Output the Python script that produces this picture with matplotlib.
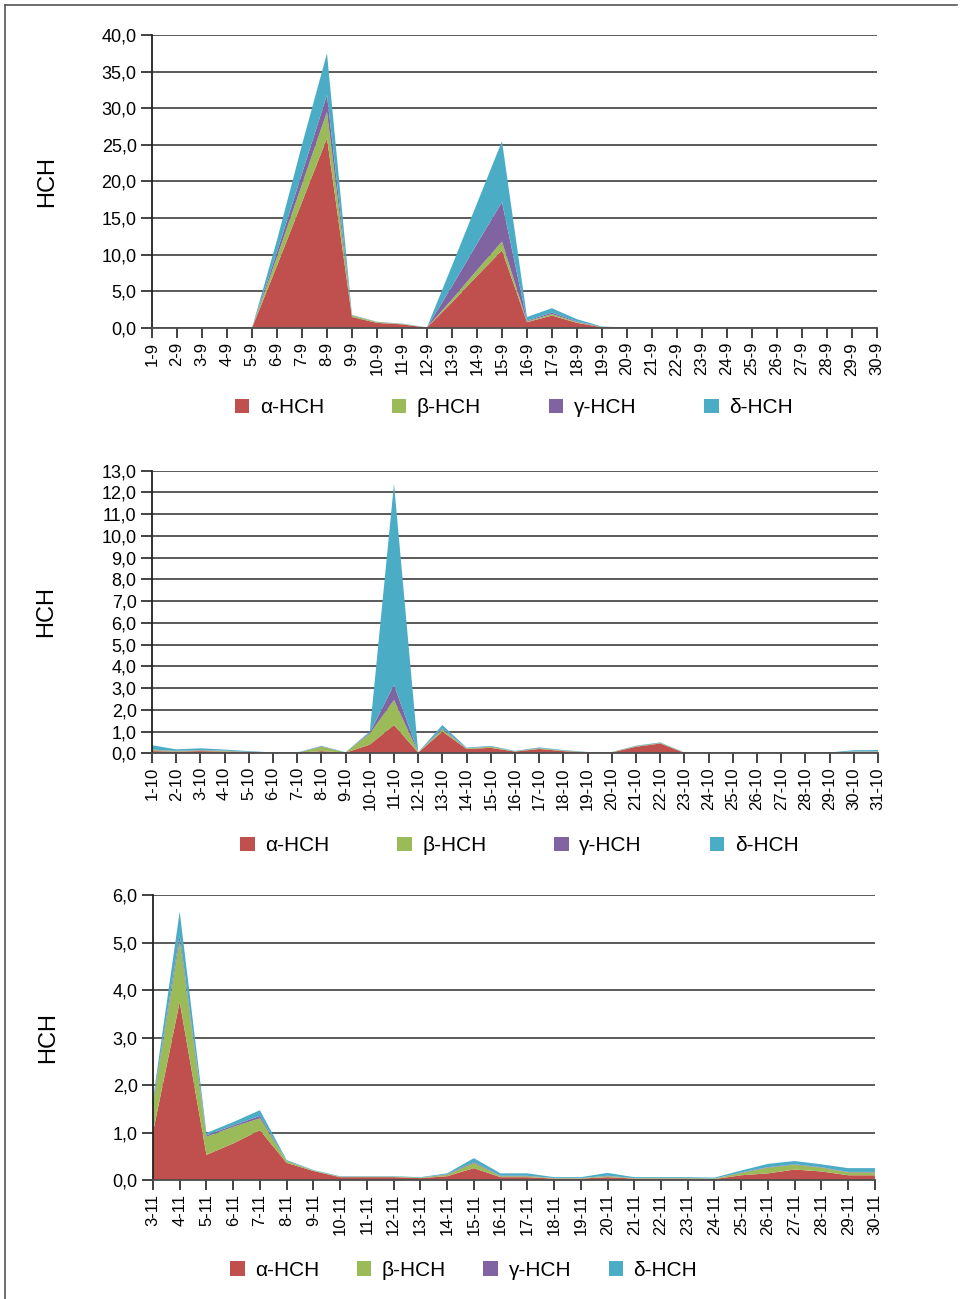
import matplotlib.pyplot as plt
from matplotlib.ticker import FuncFormatter, MultipleLocator
from matplotlib.patches import Patch
from matplotlib.lines import Line2D

plt.rcParams['font.family'] = ['Liberation Sans', 'DejaVu Sans']

colors = ['#c0504d', '#9bbb59', '#8064a2', '#4bacc6']
names = ['α-HCH', 'β-HCH', 'γ-HCH', 'δ-HCH']

# September
sep_days = [f'{d}-9' for d in range(1, 31)]
sep_a = [0, 0, 0, 0, 0, 8.5, 17.2, 25.9, 1.5, 0.7, 0.5, 0.05, 3.5, 7.1, 10.6,
         0.8, 1.7, 0.7, 0.1, 0.03, 0.03, 0.02, 0.02, 0.02, 0.02, 0.02, 0.02, 0.02, 0.02, 0.02]
sep_b = [0, 0, 0, 0, 0, 1.2, 2.4, 3.6, 0.2, 0.1, 0.05, 0.02, 0.4, 0.8, 1.2,
         0.1, 0.2, 0.1, 0.03, 0.01, 0.01, 0.01, 0.01, 0.01, 0.01, 0.01, 0.01, 0.01, 0.01, 0.01]
sep_g = [0, 0, 0, 0, 0, 0.7, 1.5, 2.3, 0.03, 0.02, 0.02, 0.01, 1.8, 3.6, 5.4,
         0.1, 0.2, 0.1, 0.02, 0.01, 0.01, 0.01, 0.01, 0.01, 0.01, 0.01, 0.01, 0.01, 0.01, 0.01]
sep_d = [0, 0, 0, 0, 0, 1.6, 3.9, 5.7, 0.05, 0.03, 0.03, 0.01, 2.8, 5.5, 8.3,
         0.5, 0.6, 0.3, 0.05, 0.02, 0.02, 0.02, 0.01, 0.01, 0.01, 0.01, 0.01, 0.01, 0.01, 0.01]

# October
oct_days = [f'{d}-10' for d in range(1, 32)]
oct_a = [0.1, 0.08, 0.1, 0.08, 0.05, 0.02, 0.02, 0.1, 0.03, 0.4, 1.3, 0.03, 1.0, 0.2, 0.25, 0.08,
         0.2, 0.1, 0.04, 0.04, 0.3, 0.45, 0.02, 0.02, 0.02, 0.02, 0.02, 0.02, 0.02, 0.06, 0.06]
oct_b = [0.05, 0.02, 0.03, 0.03, 0.01, 0.01, 0.01, 0.2, 0.01, 0.5, 1.15, 0.01, 0.1, 0.02, 0.05, 0.01,
         0.03, 0.02, 0.01, 0.01, 0.02, 0.02, 0.01, 0.01, 0.01, 0.01, 0.01, 0.01, 0.01, 0.02, 0.02]
oct_g = [0.02, 0.01, 0.02, 0.01, 0.01, 0.0, 0.0, 0.02, 0.0, 0.05, 0.7, 0.0, 0.05, 0.01, 0.01, 0.0,
         0.01, 0.01, 0.0, 0.0, 0.01, 0.01, 0.0, 0.0, 0.0, 0.0, 0.0, 0.0, 0.0, 0.01, 0.01]
oct_d = [0.2, 0.07, 0.08, 0.05, 0.03, 0.01, 0.01, 0.02, 0.01, 0.05, 9.25, 0.01, 0.15, 0.03, 0.03, 0.02,
         0.03, 0.02, 0.01, 0.01, 0.02, 0.02, 0.01, 0.01, 0.01, 0.01, 0.01, 0.01, 0.01, 0.05, 0.06]

# November
nov_days = [f'{d}-11' for d in range(3, 31)]
nov_a = [1.0, 3.75, 0.53, 0.77, 1.05, 0.36, 0.19, 0.06, 0.06, 0.06, 0.04, 0.08, 0.25, 0.06,
         0.06, 0.03, 0.03, 0.06, 0.03, 0.03, 0.03, 0.02, 0.1, 0.14, 0.22, 0.18, 0.1, 0.1]
nov_b = [0.6, 1.3, 0.38, 0.35, 0.25, 0.04, 0.01, 0.01, 0.01, 0.01, 0.01, 0.03, 0.11, 0.02,
         0.02, 0.01, 0.01, 0.02, 0.01, 0.01, 0.01, 0.01, 0.05, 0.12, 0.1, 0.08, 0.06, 0.06]
nov_g = [0.05, 0.1, 0.03, 0.03, 0.05, 0.0, 0.0, 0.0, 0.0, 0.0, 0.0, 0.01, 0.02, 0.01,
         0.01, 0.0, 0.0, 0.01, 0.0, 0.0, 0.0, 0.0, 0.01, 0.01, 0.01, 0.01, 0.01, 0.01]
nov_d = [0.05, 0.5, 0.05, 0.07, 0.12, 0.02, 0.01, 0.01, 0.01, 0.01, 0.01, 0.02, 0.08, 0.05,
         0.05, 0.02, 0.02, 0.06, 0.02, 0.02, 0.02, 0.02, 0.04, 0.07, 0.07, 0.06, 0.08, 0.08]

# data, y max, y step, axes rect, legend centre (x, y), legend column spacing
panels = [
    (sep_days, [sep_a, sep_b, sep_g, sep_d], 40, 5, [0.158, 0.7475, 0.7536, 0.2256], (0.534, 0.686), 3.25),
    (oct_days, [oct_a, oct_b, oct_g, oct_d], 13, 1, [0.158, 0.4201, 0.7547, 0.2176], (0.540, 0.349), 3.25),
    (nov_days, [nov_a, nov_b, nov_g, nov_d], 6, 1, [0.159, 0.0916, 0.7505, 0.2194], (0.482, 0.0223), 1.8),
]

fig = plt.figure(figsize=(9.62, 12.99), dpi=100)

for days, series, ymax, step, rect, leg_xy, colsp in panels:
    ax = fig.add_axes(rect)
    x = list(range(len(days)))
    ax.stackplot(x, *series, colors=colors, linewidth=0)
    ax.set_xlim(0, len(days) - 1)
    ax.set_ylim(0, ymax)
    ax.yaxis.set_major_locator(MultipleLocator(step))
    ax.yaxis.set_major_formatter(FuncFormatter(lambda v, p: f'{v:.1f}'.replace('.', ',')))
    ax.set_xticks(x)
    ax.set_xticklabels(days, rotation=90, fontsize=12)
    ax.tick_params(axis='y', labelsize=13, length=8, width=1.2, color='#222222', pad=3)
    ax.tick_params(axis='x', length=7, width=1.2, color='#222222', pad=3)
    ax.grid(axis='y', color='#4d4d4d', linewidth=1.3)
    ax.set_axisbelow(True)
    for s in ['top', 'right']:
        ax.spines[s].set_visible(False)
    ax.spines['left'].set_color('#222222')
    ax.spines['left'].set_linewidth(1.3)
    ax.spines['bottom'].set_color('#4d4d4d')
    ax.spines['bottom'].set_linewidth(1.3)
    ax.set_ylabel('HCH', fontsize=17)
    ax.yaxis.set_label_coords(-0.13, 0.5)
    handles = [Patch(facecolor=c, edgecolor='none') for c in colors]
    fig.legend(handles, names, loc='center', bbox_to_anchor=leg_xy,
               ncol=4, frameon=False, fontsize=15, handlelength=0.7, handleheight=0.7,
               handletextpad=0.5, columnspacing=colsp)

# page frame
fig.add_artist(Line2D([5 / 962, 5 / 962], [0, 1 - 5 / 1299], color='#555555', linewidth=1.2))
fig.add_artist(Line2D([5 / 962, 957 / 962], [1 - 5 / 1299, 1 - 5 / 1299], color='#555555', linewidth=1.2))

fig.savefig('out.png', dpi=100)
